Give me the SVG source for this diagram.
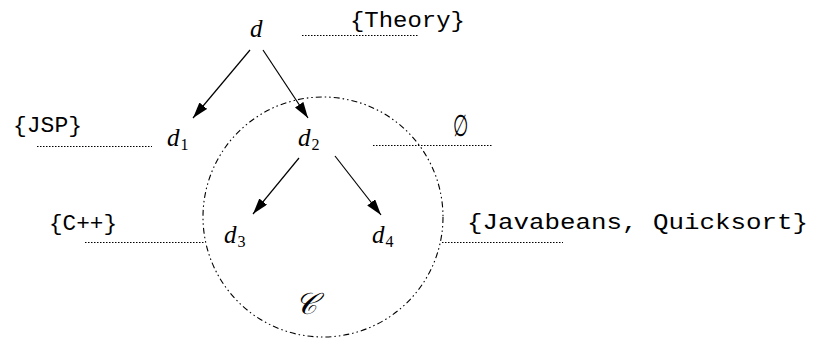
<svg xmlns="http://www.w3.org/2000/svg" width="814" height="341" viewBox="0 0 814 341">
<style>
.math{font-family:"Liberation Serif","DejaVu Serif",serif;font-style:italic;fill:#000}
.sub{font-family:"Liberation Serif","DejaVu Serif",serif;font-style:normal;font-size:16px}
.mono{font-family:"Liberation Mono","DejaVu Sans Mono",monospace;font-size:22px;fill:#000}
.arrow{stroke:#000;stroke-width:1.2;fill:none;marker-end:url(#ah)}
.dot{stroke:#000;stroke-width:1;stroke-dasharray:1.5 1.5;fill:none}
.clus{stroke:#000;stroke-width:1.1;stroke-dasharray:6 3 1.5 3 1.5 3;fill:none}
</style>
<defs>
<marker id="ah" markerUnits="userSpaceOnUse" markerWidth="18" markerHeight="11" refX="16" refY="5" orient="auto">
<path d="M0,0 L16,5 L0,10 z" fill="#000"/>
</marker>
</defs>
<g id="cluster">
<circle class="clus" cx="323" cy="217" r="120"/>
<text class="math" x="306" y="314" font-size="30" text-anchor="middle">𝒞</text>
</g>
<g id="connectors">
<line class="arrow" x1="250" y1="50" x2="193" y2="118"/>
<line class="arrow" x1="263" y1="50" x2="308" y2="118"/>
<line class="arrow" x1="299" y1="158" x2="253" y2="214"/>
<line class="arrow" x1="335" y1="156" x2="381" y2="215"/>
<line class="dot" x1="302" y1="35.5" x2="418" y2="35.5"/>
<line class="dot" x1="37" y1="146.5" x2="152" y2="146.5"/>
<line class="dot" x1="373" y1="145.5" x2="492" y2="145.5"/>
<line class="dot" x1="85" y1="242.5" x2="205" y2="242.5"/>
<line class="dot" x1="442" y1="242.5" x2="563" y2="242.5"/>
</g>
<g id="node-d"><text class="math" x="250" y="37" font-size="25">d</text></g>
<g id="node-d1"><text class="math" x="167" y="146" font-size="25">d<tspan class="sub" dx="1" dy="4">1</tspan></text></g>
<g id="node-d2"><text class="math" x="298" y="146" font-size="25">d<tspan class="sub" dx="1" dy="4">2</tspan></text></g>
<g id="node-d3"><text class="math" x="224" y="243" font-size="25">d<tspan class="sub" dx="1" dy="4">3</tspan></text></g>
<g id="node-d4"><text class="math" x="372" y="243" font-size="25">d<tspan class="sub" dx="1" dy="4">4</tspan></text></g>
<g id="label-theory"><text class="mono" x="350" y="27" textLength="115" lengthAdjust="spacingAndGlyphs">{Theory}</text></g>
<g id="label-jsp"><text class="mono" x="13" y="132" textLength="69" lengthAdjust="spacingAndGlyphs">{JSP}</text></g>
<g id="label-empty"><text x="0" y="0" font-family="DejaVu Serif, serif" font-size="21" text-anchor="middle" transform="translate(461,136) scale(0.85,1.45)">∅</text></g>
<g id="label-cpp"><text class="mono" x="49" y="230" textLength="68" lengthAdjust="spacingAndGlyphs">{C++}</text></g>
<g id="label-java"><text class="mono" x="467" y="229" textLength="341" lengthAdjust="spacingAndGlyphs">{Javabeans, Quicksort}</text></g>
</svg>
